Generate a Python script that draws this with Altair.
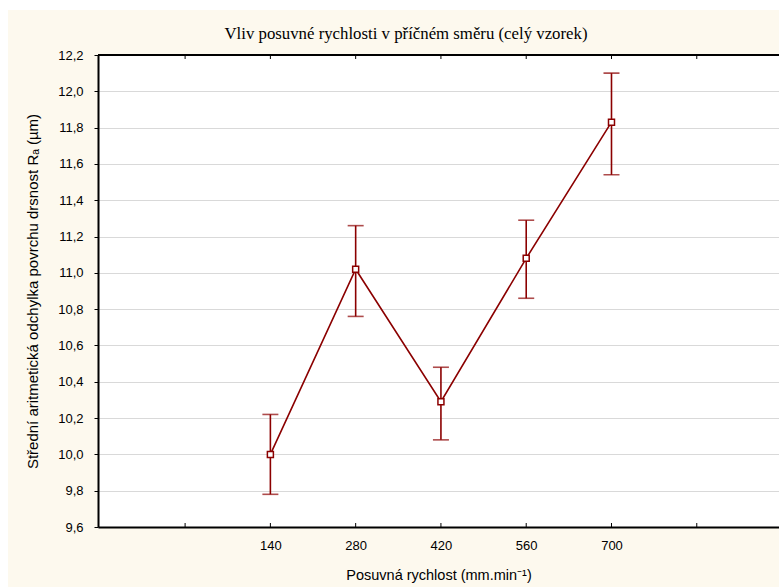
import altair as alt
import pandas as pd

# ---- data ----
speeds = [140, 280, 420, 560, 700]
means = [10.00, 11.02, 10.29, 11.08, 11.83]
lower = [9.78, 10.76, 10.08, 10.86, 11.54]
upper = [10.22, 11.26, 10.48, 11.29, 12.10]
x_ticks = [0, 140, 280, 420, 560, 700, 840]
y_ticks = [9.6, 9.8, 10.0, 10.2, 10.4, 10.6, 10.8, 11.0, 11.2, 11.4, 11.6, 11.8, 12.0, 12.2]
title_text = "Vliv posuvné rychlosti v příčném směru (celý vzorek)"
x_title = "Posuvná rychlost (mm.min⁻¹)"
y_title = "Střední aritmetická odchylka povrchu drsnost Rₐ (µm)"

RED = "#8B0000"
CREAM = "#fdf9ee"
W, H = 681, 472

df = pd.DataFrame({"speed": speeds, "mean": means, "lo": lower, "hi": upper})
tick_df = pd.DataFrame({"t": x_ticks})
one = pd.DataFrame({"a": [0]})

xscale = alt.Scale(domain=[-143, 975], nice=False, zero=False)
yscale = alt.Scale(domain=[9.6, 12.2], nice=False, zero=False)

x_axis = alt.Axis(
    values=x_ticks,
    labelExpr="datum.value >= 140 && datum.value <= 700 ? datum.label : ''",
    labelOverlap=False,
    ticks=False,
    tickSize=0,
    grid=False,
    domainColor="black",
    domainWidth=2,
    labelPadding=12,
    labelFont="Liberation Sans",
    labelFontSize=13,
    labelColor="black",
    title=x_title,
    titleFont="Liberation Sans",
    titleFontSize=14.5,
    titleFontWeight="normal",
    titleColor="black",
    titlePadding=16,
)
y_axis = alt.Axis(
    values=y_ticks,
    labelExpr="replace(format(datum.value, '.1f'), '.', ',')",
    labelOverlap=False,
    tickSize=4,
    tickColor="black",
    grid=True,
    gridColor="#d9d9d9",
    gridWidth=1,
    domainColor="black",
    domainWidth=2,
    labelPadding=11,
    labelFont="Liberation Sans",
    labelFontSize=13,
    labelColor="black",
    title=y_title,
    titleFont="Liberation Sans",
    titleFontSize=15,
    titleFontWeight="normal",
    titleColor="black",
    titlePadding=17,
)


def xq(field):
    return alt.X(field, scale=xscale, axis=x_axis)


def yq(field):
    return alt.Y(field, scale=yscale, axis=y_axis)


# white margin strips (top and left) of the picture
strip_top = alt.Chart(one).mark_rect(color="white").encode(
    x=alt.value(-98), x2=alt.value(W), y=alt.value(-55), y2=alt.value(-45)
)
strip_left = alt.Chart(one).mark_rect(color="white").encode(
    x=alt.value(-98), x2=alt.value(-90), y=alt.value(-55), y2=alt.value(H + 60)
)
title = alt.Chart(one).mark_text(
    text=title_text, font="Liberation Serif", fontSize=16.8, color="black",
    align="center", baseline="middle"
).encode(x=alt.value(308), y=alt.value(-21))

top_border = alt.Chart(one).mark_rule(color="black", strokeWidth=2).encode(
    x=alt.value(0), x2=alt.value(W), y=alt.value(0)
)
bottom_ticks = alt.Chart(tick_df).mark_rule(color="black", strokeWidth=1).encode(
    x=xq("t:Q"), y=alt.value(H - 4), y2=alt.value(H)
)
top_ticks = alt.Chart(tick_df).mark_rule(color="black", strokeWidth=1).encode(
    x=xq("t:Q"), y=alt.value(0), y2=alt.value(4)
)

base = alt.Chart(df)
line = base.mark_line(color=RED, strokeWidth=1.6).encode(x=xq("speed:Q"), y=yq("mean:Q"))
err = base.mark_rule(color=RED, strokeWidth=1.6).encode(
    x=xq("speed:Q"), y=yq("lo:Q"), y2="hi:Q"
)
cap_lo = base.mark_tick(color=RED, thickness=1.6, size=16, orient="horizontal").encode(
    x=xq("speed:Q"), y=yq("lo:Q")
)
cap_hi = base.mark_tick(color=RED, thickness=1.6, size=16, orient="horizontal").encode(
    x=xq("speed:Q"), y=yq("hi:Q")
)
pts = base.mark_point(shape="square", size=36, filled=False, fill="white",
                      fillOpacity=1, stroke=RED, strokeWidth=1.5, opacity=1).encode(
    x=xq("speed:Q"), y=yq("mean:Q")
)

chart = alt.layer(
    line, strip_top, strip_left, title, err, cap_lo, cap_hi, pts,
    bottom_ticks, top_ticks, top_border
).properties(
    width=W,
    height=H,
    autosize=alt.AutoSizeParams(type="none"),
    padding={"left": 98, "top": 55, "right": 0, "bottom": 60},
).configure(
    background=CREAM,
).configure_view(
    fill="white",
    stroke=None,
)

chart.save("out.html", embed_options={"renderer": "svg", "actions": False})
